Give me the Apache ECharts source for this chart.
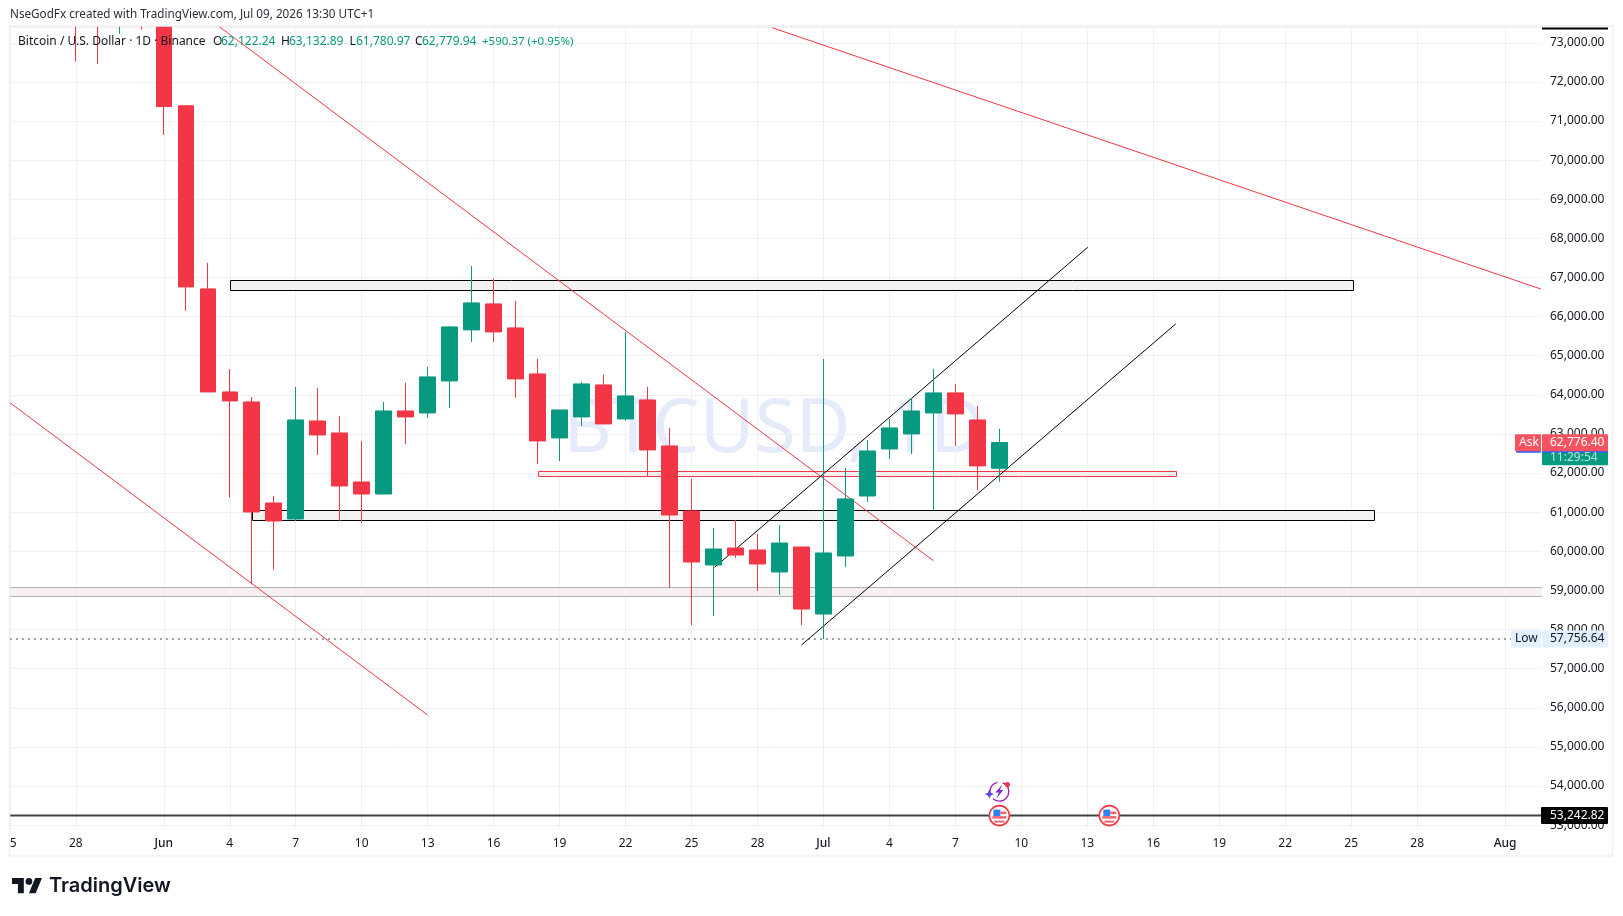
<!DOCTYPE html>
<html><head><meta charset="utf-8">
<style>html,body{margin:0;padding:0;background:#fff}#c{width:1623px;height:916px}</style>
<script src="https://cdn.jsdelivr.net/npm/echarts@6/dist/echarts.min.js"></script>
</head><body><div id="c"></div>
<script>
const dates = ['May 28','May 29','May 30','May 31',
 'Jun 1','Jun 2','Jun 3','Jun 4','Jun 5','Jun 6','Jun 7','Jun 8','Jun 9','Jun 10','Jun 11','Jun 12','Jun 13','Jun 14','Jun 15','Jun 16','Jun 17','Jun 18','Jun 19','Jun 20','Jun 21','Jun 22','Jun 23','Jun 24','Jun 25','Jun 26','Jun 27','Jun 28','Jun 29','Jun 30',
 'Jul 1','Jul 2','Jul 3','Jul 4','Jul 5','Jul 6','Jul 7','Jul 8','Jul 9'];
const opens = [74900,74200,73900,74500,
 74100,71389,66708,64074,63818,61235,60826,63332,63025,61772,61465,63588,63537,64355,65660,66325,65711,64534,62898,63435,64253,63384,63869,62693,61031,59650,60084,60033,59471,60110,
 58396,59880,61414,62616,63000,63537,64049,63358,62122.24];
const closes = [74200,73900,74500,74100,
 71371,66759,64074,63844,61005,60775,63358,62974,61670,61465,63588,63435,64458,65736,66350,65609,64407,62821,63614,64279,63256,63972,62591,60928,59726,60059,59905,59675,60212,58524,
 59957,61338,62565,63153,63588,64049,63512,62182,62779.94];
const lows = [72522,72455,73230,73332,
 70647,66146,64074,61371,59156,59529,60775,62463,60775,60724,61465,62744,63409,63665,65353,65353,63921,62233,62309,63205,63256,63332,61926,59061,58115,58345,59829,58985,58882,58115,
 57756.64,59598,61261,62361,62488,61056,62693,61568,61780.97];
const highs = [75300,74800,74900,74800,
 74500,71389,67373,64662,63946,61414,64202,64176,63460,62821,63818,64304,64713,65762,67297,66964,66401,64918,63614,64330,64509,65609,64202,63153,61849,60596,60800,60442,60673,60110,
 64918,62130,62846,63384,63921,64662,64279,63716,63132.89];

const tickDates = ['May 25','May 28','Jun 1','Jun 4','Jun 7','Jun 10','Jun 13','Jun 16','Jun 19','Jun 22','Jun 25','Jun 28','Jul 1','Jul 4','Jul 7','Jul 10','Jul 13','Jul 16','Jul 19','Jul 22','Jul 25','Jul 28','Aug 1'];
const tickLabels = ['25','28','Jun','4','7','10','13','16','19','22','25','28','Jul','4','7','10','13','16','19','22','25','28','Aug'];

// drawings: [day offset, price] end points
const redTrend1 = [[0,63800],[19.0,55813]];
const redTrend2 = [[9.44,73447],[42.0,59760]];
const redTrend3 = [[34.68,73383],[69.632,66704]];
const channelUpper = [[32.05,59591],[49.02,67772]];
const channelLower = [[36.0,57604],[53.02,65813]];
// zones: [day from, day to, price top, price bottom]
const blackZones = [[10,61.05,66938,66675],[11,62.03,61056,60793]];
const redZones = [[24.03,53.06,62046,61918]];
const greyZones = [[-1,71,59095,58864]];
const horizontalLevel = 53242.82;
const lowLevel = 57756.64;
const askPrice = 62776.40;
const calendarEvents = ['Jul 9','Jul 14'];
const lightningEvents = ['Jul 9'];

function dayIndex(s){
  const [m,d] = s.split(' ');
  return (+d) + {May:-25,Jun:6,Jul:36,Aug:67}[m];
}
const tickDays = tickDates.map(dayIndex);
const FONT = '"Noto Sans", sans-serif';
const fmt = v => v.toLocaleString('en-US',{minimumFractionDigits:2,maximumFractionDigits:2});
const AX_MAX = 69.632, Y_MIN = 53000, Y_MAX = 73404;
const RED='#f23645', GREEN='#089981';

const zoneSeries = (data, stroke, fill) => ({
  type:'custom', z:2, silent:true, clip:true, data,
  encode:{x:[0,1],y:[2,3]},
  renderItem(p,api){
    const a=api.coord([api.value(0),api.value(2)]), b=api.coord([api.value(1),api.value(3)]);
    return {type:'rect',shape:{x:Math.round(a[0])+.5,y:Math.round(a[1])+.5,width:Math.round(b[0]-a[0]),height:Math.round(b[1]-a[1])},
      style:{fill,stroke,lineWidth:1}};
  }
});
const lineSeries = (data,color,width,type) => ({
  type:'line', z:3, silent:true, data, symbol:'none', clip:true, animation:false,
  lineStyle:{color,width:width||1,type:type||'solid'}
});

const chart = echarts.init(document.getElementById('c'),null,{renderer:'canvas'});
chart.setOption({
  animation:false, backgroundColor:'#fff',
  grid:{left:7,right:82,top:27,bottom:90.9,containLabel:false},
  xAxis:{type:'value',min:0,max:AX_MAX,
    axisLine:{show:false},
    axisTick:{show:true,length:3,lineStyle:{color:'#ececee'},customValues:tickDays},
    splitLine:{show:true,lineStyle:{color:'#f0f0f2',width:1}},
    axisLabel:{show:true,margin:12,color:'#131722',fontFamily:FONT,fontSize:12,customValues:tickDays,hideOverlap:false,
      showMinLabel:true,showMaxLabel:true,
      formatter:v=>{const i=tickDays.indexOf(v);if(i<0)return '';const t=tickLabels[i];return /[A-Z]/.test(t)?'{m|'+t+'}':t;},
      rich:{m:{fontFamily:FONT,fontSize:12,fontWeight:500,color:'#131722'}}}
  },
  yAxis:{type:'value',position:'right',min:Y_MIN,max:Y_MAX,interval:1000,scale:true,
    axisLine:{show:false},axisTick:{show:false},
    splitLine:{show:true,lineStyle:{color:'#f0f0f2',width:1}},
    axisLabel:{margin:9,color:'#131722',fontFamily:FONT,fontSize:12,align:'left',
      formatter:v=>v%1000?'':fmt(v)}
  },
  series:[
    zoneSeries(greyZones,'#b2b2b6','#f7f0f0'),
    zoneSeries(blackZones,'#000000','#f2f2f3'),
    zoneSeries(redZones,RED,'#f4f0f1'),
    lineSeries(redTrend1,RED),
    lineSeries(redTrend2,RED),
    lineSeries(redTrend3,RED),
    lineSeries(channelUpper,'#000000'),
    lineSeries(channelLower,'#000000'),
    lineSeries([[0,horizontalLevel],[AX_MAX,horizontalLevel]],'#434343',2),
    lineSeries([[0,lowLevel],[AX_MAX,lowLevel]],'#434343',1,[2,4]),
    {type:'candlestick',z:5,silent:true,barWidth:16,clip:true,
      itemStyle:{color:GREEN,color0:RED,borderColor:GREEN,borderColor0:RED,borderWidth:1},
      data:dates.map((d,i)=>[dayIndex(d),opens[i],closes[i],lows[i],highs[i]])},
    {type:'custom',z:6,silent:true,clip:false,data:calendarEvents.map(d=>[dayIndex(d),horizontalLevel]),encode:{x:0,y:1},
      renderItem(p,api){
        const [x,y]=api.coord([api.value(0),api.value(1)]);
        const r=(dx,dy,w,h,fill)=>({type:'rect',shape:{x:x+dx,y:y+dy,width:w,height:h},style:{fill}});
        return {type:'group',children:[
          {type:'circle',shape:{cx:x,cy:y,r:10},style:{fill:'#fff',stroke:RED,lineWidth:1.6}},
          r(-6,-6,7,6.5,'#2f80f0'),
          r(1,-4,6,2.5,'#f2616d'),
          r(-7,.5,14,2.5,'#f2616d'),
          r(-5,5,10,2,'#f2616d')
        ]};
      }},
    {type:'custom',z:6,silent:true,clip:false,data:lightningEvents.map(d=>[dayIndex(d),horizontalLevel]),encode:{x:0,y:1},
      renderItem(p,api){
        const c=api.coord([api.value(0),api.value(1)]), x=c[0], y=c[1]-24;
        return {type:'group',children:[
          {type:'arc',shape:{cx:x,cy:y,r:9.5,startAngle:-1.2,endAngle:2.3},style:{fill:null,stroke:'#9c27b0',lineWidth:1.4}},
          {type:'arc',shape:{cx:x,cy:y,r:9.5,startAngle:3.0,endAngle:4.5},style:{fill:null,stroke:'#9c27b0',lineWidth:1.4}},
          {type:'polygon',shape:{points:[[x+3,y-7],[x-4,y+1],[x-.5,y+1],[x-3,y+7],[x+4,y-1.5],[x+.5,y-1.5]]},style:{fill:'#7b2bd6'}},
          {type:'circle',shape:{cx:x+8,cy:y-7,r:2.6},style:{fill:RED}},
          {type:'polygon',shape:{points:[[x-10,y-2],[x-8.6,y+1.2],[x-5.5,y+2.5],[x-8.6,y+3.8],[x-10,y+7],[x-11.4,y+3.8],[x-14.5,y+2.5],[x-11.4,y+1.2]]},style:{fill:'#5a3ff0'}}
        ]};
      }}
  ]
});

const Y = p => chart.convertToPixel({yAxisIndex:0},p);
const txt=(x,y,text,fill,o)=>({type:'text',z:50,silent:true,x,y,style:{text,fill,font:(o&&o.font)||('12px '+FONT),textAlign:'left',textVerticalAlign:'middle'}});
const box=(x,y,w,h,fill)=>({type:'rect',z:40,silent:true,shape:{x,y,width:w,height:h,r:1},style:{fill}});
const askY=Y(askPrice), lowY=Y(lowLevel), hY=Y(horizontalLevel);
const legY=41.7, TEAL='#089981', DARK='#131722';
const S=0.845, lp=(pts)=>pts.map(([x,y])=>[12+S*x,878+S*(y-4)]);
chart.setOption({graphic:{elements:[
  {type:'text',z:-5,silent:true,x:774,y:431,style:{text:'BTCUSD, 1D',fill:'#e6ebfb',font:'75px '+FONT,textAlign:'center',textVerticalAlign:'middle'}},
  // frame
  {type:'rect',z:38,silent:true,shape:{x:0,y:0,width:1623,height:26},style:{fill:'#fff'}},
  {type:'rect',z:38,silent:true,shape:{x:0,y:20,width:9,height:840},style:{fill:'#fff'}},
  {type:'rect',z:39,silent:true,shape:{x:9.5,y:26,width:1603,height:830},style:{fill:null,stroke:'#f0f0f1',lineWidth:1.5}},
  {type:'rect',z:40,silent:true,shape:{x:1542,y:27.5,width:66,height:2},style:{fill:'#000'}},
  // header + legend
  txt(10,15,'NseGodFx created with TradingView.com, Jul 09, 2026 13:30 UTC+1','#2a2e39',{font:'11.7px '+FONT}),
  txt(18,legY,'Bitcoin / U.S. Dollar · 1D · Binance',DARK),
  txt(213,legY,'O',DARK),txt(221,legY,'62,122.24',TEAL),
  txt(281,legY,'H',DARK),txt(289,legY,'63,132.89',TEAL),
  txt(349.5,legY,'L',DARK),txt(356,legY,'61,780.97',TEAL),
  txt(415,legY,'C',DARK),txt(422,legY,'62,779.94',TEAL),
  txt(482,legY,'+590.37 (+0.95%)',TEAL,{font:'11.5px '+FONT}),
  // ask + countdown
  box(1542,askY+8,66,14.5,GREEN),
  txt(1550,askY+14.5,'11:29:54','#b9e4dc'),
  box(1516,askY+8,25,2,'#2962ff'),box(1542,askY+8,66,2,'#2962ff'),
  box(1515,askY-8.5,26,17,'#f7525f'),box(1542,askY-8.5,66,17,'#f7525f'),
  txt(1519,askY,'Ask','#fff'),txt(1550,askY,fmt(askPrice),'#fff'),
  // low
  box(1511,lowY-8.5,30,17,'#e3effd'),box(1542,lowY-8.5,66,17,'#e3effd'),
  txt(1515,lowY,'Low',DARK),txt(1550,lowY,fmt(lowLevel),DARK),
  // level
  box(1541,hY-8.5,67,17,'#000'),
  txt(1550,hY,fmt(horizontalLevel),'#fff'),
  // logo
  {type:'polygon',z:50,silent:true,shape:{points:lp([[14,22],[7,22],[7,11],[0,11],[0,4],[14,4]])},style:{fill:DARK}},
  {type:'polygon',z:50,silent:true,shape:{points:lp([[28,22],[20,22],[27.5,4],[35.5,4]])},style:{fill:DARK}},
  {type:'circle',z:50,silent:true,shape:{cx:12+S*20,cy:878+S*4,r:S*4},style:{fill:DARK}},
  {type:'text',z:50,silent:true,x:49,y:886,style:{text:'TradingView',fill:DARK,font:'600 20px Inter, sans-serif',textVerticalAlign:'middle'}}
]}});
</script></body></html>
